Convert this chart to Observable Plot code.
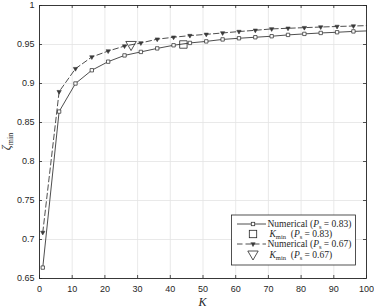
<!DOCTYPE html>
<html>
<head>
<meta charset="utf-8">
<script src="https://cdn.jsdelivr.net/npm/d3@7"></script>
<script src="https://cdn.jsdelivr.net/npm/@observablehq/plot@0.6"></script>
<style>
  html, body { margin: 0; padding: 0; background: #fff; }
  #chart { width: 374px; height: 308px; position: relative; }
</style>
</head>
<body>
<div id="chart"></div>
<script>
// ---- data ----
const kValues = [1, 6, 11, 16, 21, 26, 31, 36, 41, 46, 51, 56, 61, 66, 71, 76, 81, 86, 91, 96, 100];
const zeta083 = [0.664, 0.864, 0.900, 0.917, 0.928, 0.936, 0.9405, 0.945, 0.949, 0.952, 0.954, 0.9565, 0.958, 0.9593, 0.9606, 0.9623, 0.9636, 0.9648, 0.9657, 0.9668, 0.9674];
const zeta067 = [0.709, 0.8895, 0.919, 0.934, 0.9416, 0.948, 0.952, 0.9568, 0.9593, 0.9614, 0.963, 0.9648, 0.9666, 0.9682, 0.970, 0.9708, 0.9716, 0.9724, 0.9731, 0.9737, 0.9742];
const markerEvery = 5; // markers at K = 1, 6, 11, ... 96
const kmin083 = {K: 44, zeta: 0.95};
const kmin067 = {K: 28, zeta: 0.95};
const xTicks = [0, 10, 20, 30, 40, 50, 60, 70, 80, 90, 100];
const yTicks = [0.65, 0.7, 0.75, 0.8, 0.85, 0.9, 0.95, 1];
const legendNumerical = ["Numerical (", "P", "s", " = 0.83)", " = 0.67)"];
const legendKmin = ["K", "min", "  ("];

const s083 = kValues.map((k, i) => ({K: k, z: zeta083[i]}));
const s067 = kValues.map((k, i) => ({K: k, z: zeta067[i]}));
const isMarker = d => (d.K - 1) % markerEvery === 0 && d.K <= 96;

const triDown = {
  draw(ctx, size) {
    const R = Math.sqrt(size / 1.299);
    ctx.moveTo(0, R);
    ctx.lineTo(R * 0.866, -R / 2);
    ctx.lineTo(-R * 0.866, -R / 2);
    ctx.closePath();
  }
};

const W = 374, H = 308;
const mL = 39, mR = 8, mT = 5, mB = 30;
const fw = W - mL - mR, fh = H - mT - mB;
const ink = "#262626";
const lineCol = "#3a3a3a";

const plot = Plot.plot({
  width: W, height: H,
  marginLeft: mL, marginRight: mR, marginTop: mT, marginBottom: mB,
  style: {fontFamily: "'Liberation Sans', Arial, sans-serif", fontSize: "9px", color: ink, background: "#fff"},
  x: {domain: [0, 100], ticks: xTicks},
  y: {domain: [0.65, 1], ticks: yTicks},
  marks: [
    Plot.gridX(xTicks, {stroke: "#e3e3e3", strokeOpacity: 1, strokeWidth: 0.8}),
    Plot.gridY(yTicks, {stroke: "#e3e3e3", strokeOpacity: 1, strokeWidth: 0.8}),
    // inward ticks
    Plot.tickX(xTicks, {x: d => d, insetTop: fh - 3, stroke: ink, strokeWidth: 0.8}),
    Plot.tickX(xTicks, {x: d => d, insetBottom: fh - 3, stroke: ink, strokeWidth: 0.8}),
    Plot.tickY(yTicks, {y: d => d, insetRight: fw - 3, stroke: ink, strokeWidth: 0.8}),
    Plot.tickY(yTicks, {y: d => d, insetLeft: fw - 3, stroke: ink, strokeWidth: 0.8}),
    Plot.axisX(xTicks, {anchor: "bottom", tickSize: 0, tickPadding: 7, label: null, fill: ink,
      tickFormat: d => String(d)}),
    Plot.axisY(yTicks, {anchor: "left", tickSize: 0, tickPadding: 5, label: null, fill: ink,
      tickFormat: d => String(+d.toFixed(2))}),
    // series P_s = 0.83 (solid)
    Plot.line(s083, {x: "K", y: "z", stroke: lineCol, strokeWidth: 0.9}),
    Plot.dot(s083.filter(isMarker), {x: "K", y: "z", symbol: "square", r: 1.9, stroke: lineCol, strokeWidth: 0.8, fill: "#fff"}),
    // series P_s = 0.67 (dashed)
    Plot.line(s067, {x: "K", y: "z", stroke: lineCol, strokeWidth: 0.9, strokeDasharray: "5.5,3"}),
    Plot.dot(s067.filter(isMarker), {x: "K", y: "z", symbol: triDown, r: 1.6, stroke: lineCol, strokeWidth: 0.6, fill: lineCol}),
    // K_min markers
    Plot.dot([kmin083], {x: "K", y: "zeta", symbol: "square", r: 4.2, stroke: ink, strokeWidth: 0.8, fill: "none"}),
    Plot.dot([kmin067], {x: "K", y: "zeta", symbol: triDown, r: 3.9, stroke: ink, strokeWidth: 0.8, fill: "none"}),
    Plot.frame({stroke: ink, strokeWidth: 0.9})
  ]
});

document.getElementById("chart").appendChild(plot);

// ---- axis labels and legend (added into the same SVG) ----
const svg = d3.select(plot);
const serif = "'Liberation Serif', 'Times New Roman', serif";

// x label
svg.append("text")
  .attr("x", mL + fw / 2).attr("y", H - 2)
  .attr("text-anchor", "middle")
  .style("font-family", serif).style("font-style", "italic").style("font-size", "12px")
  .attr("fill", ink).text("K");

// y label
const yl = svg.append("text")
  .attr("transform", `translate(10, ${mT + fh / 2}) rotate(-90)`)
  .attr("text-anchor", "middle")
  .style("font-family", serif).style("font-size", "12px").attr("fill", ink);
yl.append("tspan").style("font-style", "italic").text("ζ");
yl.append("tspan").attr("dy", 3).style("font-size", "8px").text("min");

// legend
const lg = svg.append("g");
const bx = 231.5, by = 215, bw = 124, bh = 50;
lg.append("rect").attr("x", bx).attr("y", by).attr("width", bw).attr("height", bh)
  .attr("fill", "#fff").attr("stroke", ink).attr("stroke-width", 0.8);

const rows = [
  {y: 224, kind: "line", dash: null, sym: "sq", tail: legendNumerical[3]},
  {y: 234, kind: "big", sym: "sq", tail: legendNumerical[3]},
  {y: 244, kind: "line", dash: "5.5,3", sym: "tri", tail: legendNumerical[4]},
  {y: 255, kind: "big", sym: "tri", tail: legendNumerical[4]}
];
const mx = 253;
const triPath = R => `M0,${R}L${R * 0.866},${-R / 2}L${-R * 0.866},${-R / 2}Z`;

rows.forEach(r => {
  if (r.kind === "line") {
    lg.append("line").attr("x1", 237).attr("x2", 266).attr("y1", r.y).attr("y2", r.y)
      .attr("stroke", lineCol).attr("stroke-width", 0.9)
      .attr("stroke-dasharray", r.dash);
    if (r.sym === "sq") {
      lg.append("rect").attr("x", mx - 1.7).attr("y", r.y - 1.7).attr("width", 3.4).attr("height", 3.4)
        .attr("fill", "#fff").attr("stroke", lineCol).attr("stroke-width", 0.8);
    } else {
      lg.append("path").attr("transform", `translate(${mx},${r.y})`).attr("d", triPath(2.5))
        .attr("fill", lineCol).attr("stroke", lineCol).attr("stroke-width", 0.6);
    }
  } else {
    if (r.sym === "sq") {
      lg.append("rect").attr("x", mx - 3.7).attr("y", r.y - 3.7).attr("width", 7.4).attr("height", 7.4)
        .attr("fill", "none").attr("stroke", ink).attr("stroke-width", 0.8);
    } else {
      lg.append("path").attr("transform", `translate(${mx},${r.y - 1})`).attr("d", triPath(6))
        .attr("fill", "none").attr("stroke", ink).attr("stroke-width", 0.8);
    }
  }
  const t = lg.append("text").attr("x", r.kind === "line" ? 267.5 : 269.5).attr("y", r.y + 3)
    .attr("text-anchor", "start").attr("xml:space", "preserve")
    .style("white-space", "pre")
    .style("font-family", serif).style("font-size", "9.5px").attr("fill", ink);
  if (r.kind === "line") {
    t.append("tspan").text(legendNumerical[0]);
  } else {
    t.append("tspan").style("font-style", "italic").text(legendKmin[0]);
    t.append("tspan").attr("dy", 2).style("font-size", "6.5px").text(legendKmin[1]);
    t.append("tspan").attr("dy", -2).text(legendKmin[2]);
  }
  t.append("tspan").style("font-style", "italic").text(legendNumerical[1]);
  t.append("tspan").attr("dy", 2).style("font-size", "6.5px").text(legendNumerical[2]);
  t.append("tspan").attr("dy", -2).text(r.tail);
});
</script>
</body>
</html>
